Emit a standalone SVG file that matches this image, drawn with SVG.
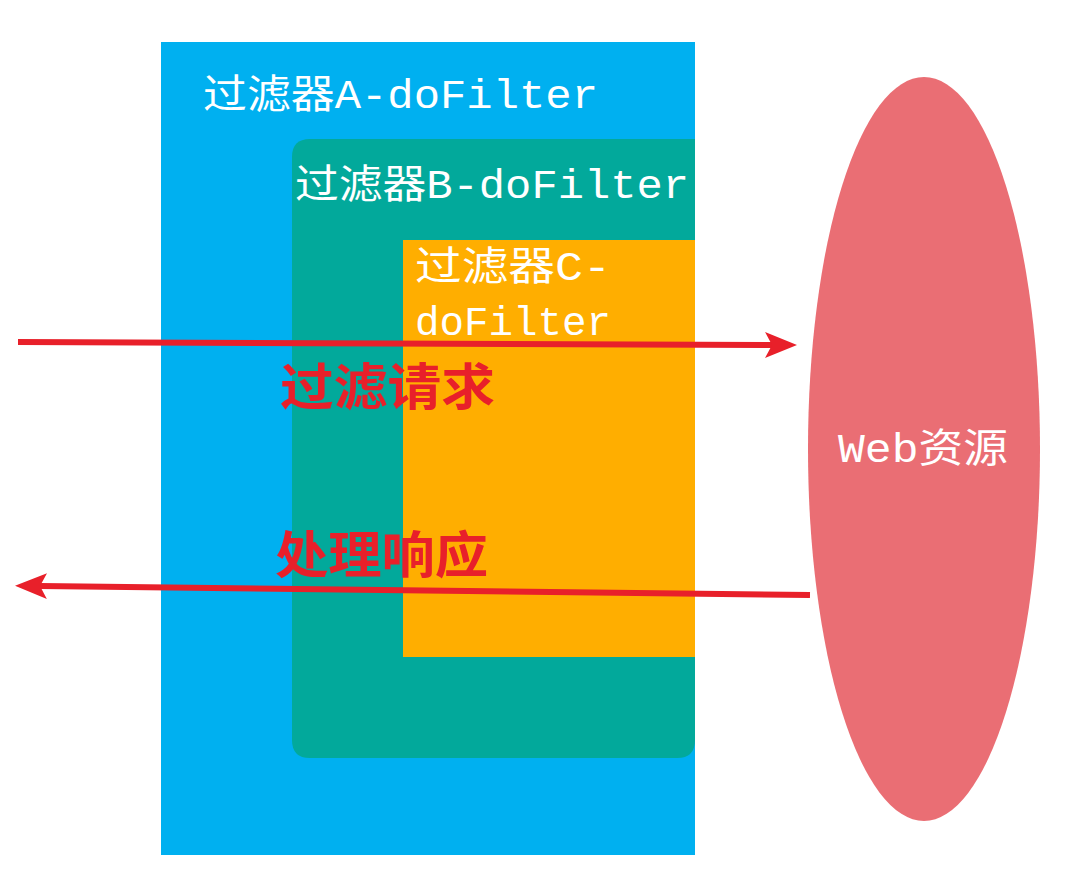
<svg xmlns="http://www.w3.org/2000/svg" width="1088" height="889" viewBox="0 0 1088 889">
<defs>
<marker id="ah" markerUnits="userSpaceOnUse" markerWidth="34" markerHeight="30" refX="7" refY="15" orient="auto">
<path d="M0,2 L32,15 L0,28 L7,15 Z" fill="#e8202a"/>
</marker>
</defs>
<style>
.lbl{font-family:"Liberation Mono","Noto Sans CJK SC",monospace;fill:#ffffff;font-size:40px}
.red{font-family:"Noto Sans CJK SC",sans-serif;fill:#e8202a;font-size:50px;font-weight:bold}
.arrow{stroke:#e8202a;stroke-width:6;fill:none;stroke-linecap:butt}
</style>
<rect width="1088" height="889" fill="#ffffff"/>
<g id="filterA">
<rect x="161" y="42" width="534" height="813" fill="#00b0f0"/>
<text class="lbl" x="203" y="108" textLength="395" lengthAdjust="spacingAndGlyphs">过滤器A-doFilter</text>
</g>
<g id="filterB">
<path d="M310,139 L695,139 L695,740 Q695,758 677,758 L310,758 Q292,758 292,740 L292,157 Q292,139 310,139 Z" fill="#02a99b"/>
<text class="lbl" x="295" y="198" textLength="394" lengthAdjust="spacingAndGlyphs">过滤器B-doFilter</text>
</g>
<g id="filterC">
<rect x="403" y="240" width="292" height="417" fill="#ffae00"/>
<text class="lbl" x="415" y="280" textLength="196" lengthAdjust="spacingAndGlyphs">过滤器C-</text>
<text class="lbl" x="415" y="335" textLength="196" lengthAdjust="spacingAndGlyphs">doFilter</text>
</g>
<g id="web">
<ellipse cx="924" cy="449" rx="116" ry="372" fill="#ea6e74"/>
<text class="lbl" x="838" y="462" textLength="170" lengthAdjust="spacingAndGlyphs">Web资源</text>
</g>
<g id="connectors">
<line class="arrow" x1="18" y1="342" x2="772" y2="345" marker-end="url(#ah)"/>
<line class="arrow" x1="810" y1="595" x2="40" y2="586" marker-end="url(#ah)"/>
</g>
<g id="labels">
<text class="red" x="280" y="405" textLength="215" lengthAdjust="spacingAndGlyphs">过滤请求</text>
<text class="red" x="275" y="573" textLength="213" lengthAdjust="spacingAndGlyphs">处理响应</text>
</g>
</svg>
